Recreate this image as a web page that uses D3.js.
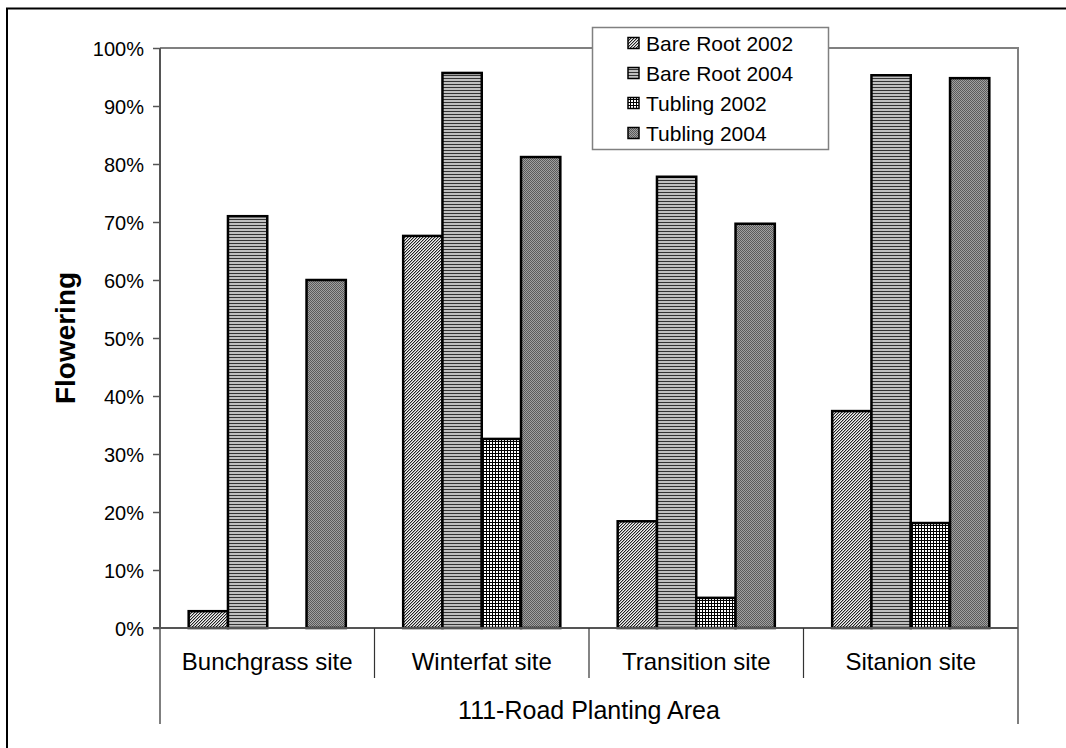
<!DOCTYPE html>
<html><head><meta charset="utf-8">
<script src="https://cdn.jsdelivr.net/npm/d3@7"></script>
<style>body{margin:0;background:#fff}svg{display:block}text{font-family:"Liberation Sans",Arial,sans-serif}</style>
</head><body>
<svg id="c" width="1066" height="748"></svg>
<script>
const categories = ["Bunchgrass site","Winterfat site","Transition site","Sitanion site"];
const seriesNames = ["Bare Root 2002","Bare Root 2004","Tubling 2002","Tubling 2004"];
const bareRoot2002 = [0.029,0.676,0.184,0.374];
const bareRoot2004 = [0.710,0.957,0.778,0.953];
const tubling2002 = [0.0,0.326,0.052,0.181];
const tubling2004 = [0.600,0.812,0.697,0.948];
const yTicks = [0,0.1,0.2,0.3,0.4,0.5,0.6,0.7,0.8,0.9,1.0];
const groupLabel = "111-Road Planting Area";
const yLabel = "Flowering";

const series = [bareRoot2002,bareRoot2004,tubling2002,tubling2004];
const svg = d3.select("#c");
const defs = svg.append("defs");
// patterns
const p1 = defs.append("pattern").attr("id","p0").attr("patternUnits","userSpaceOnUse").attr("width",3).attr("height",3);
p1.append("rect").attr("width",3).attr("height",3).attr("fill","#f4f4f4");
[[0,2],[1,1],[2,0]].forEach(([px,py])=>p1.append("rect").attr("x",px).attr("y",py).attr("width",1).attr("height",1).attr("fill","#222"));
[[1,2],[2,1],[0,0]].forEach(([px,py])=>p1.append("rect").attr("x",px).attr("y",py).attr("width",1).attr("height",1).attr("fill","#aaa"));
const p2 = defs.append("pattern").attr("id","p1").attr("patternUnits","userSpaceOnUse").attr("width",3).attr("height",3);
p2.append("rect").attr("width",3).attr("height",3).attr("fill","#c0c0c0");
p2.append("rect").attr("y",0).attr("width",3).attr("height",1).attr("fill","#333");
const p3 = defs.append("pattern").attr("id","p2").attr("patternUnits","userSpaceOnUse").attr("width",3).attr("height",3);
p3.append("rect").attr("width",3).attr("height",3).attr("fill","#fff");
p3.append("rect").attr("width",3).attr("height",1).attr("fill","#000");
p3.append("rect").attr("width",1).attr("height",3).attr("fill","#000");
const p4 = defs.append("pattern").attr("id","p3").attr("patternUnits","userSpaceOnUse").attr("width",2).attr("height",2);
p4.append("rect").attr("width",2).attr("height",2).attr("fill","#a0a0a0");
p4.append("rect").attr("width",1).attr("height",1).attr("fill","#5a5a5a");
p4.append("rect").attr("x",1).attr("y",1).attr("width",1).attr("height",1).attr("fill","#5a5a5a");

const L=160, R=1018, T=48, B=628;
// outer border
svg.append("rect").attr("x",7).attr("y",8.5).attr("width",1100).attr("height",800).attr("fill","none").attr("stroke","#000").attr("stroke-width",2);
const y = d3.scaleLinear().domain([0,1]).range([B,T]);
const x0 = d3.scaleBand().domain(categories).range([L,R]).paddingInner(0).paddingOuter(0);
const x1 = d3.scaleBand().domain(d3.range(4)).range([0,x0.bandwidth()]).paddingOuter(0.73).paddingInner(0);

// plot border (top/right)
svg.append("path").attr("d",`M${L},${T}H${R}V${B}`).attr("fill","none").attr("stroke","#808080").attr("stroke-width",2);

// bars
const g = svg.append("g");
categories.forEach((c,i)=>{
  series.forEach((s,j)=>{
    if(s[i]<=0) return;
    g.append("rect").attr("x",x0(c)+x1(j)).attr("y",y(s[i])).attr("width",x1.bandwidth()).attr("height",B-y(s[i]))
     .attr("fill",`url(#p${j})`).attr("stroke","#000").attr("stroke-width",2.5);
  });
});

// y axis
const ya = svg.append("g").attr("transform",`translate(${L},0)`).call(d3.axisLeft(y).tickValues(yTicks).tickFormat(d3.format(".0%")).tickSize(7).tickPadding(9));
ya.attr("font-family",null).attr("font-size",null);
ya.select(".domain").attr("stroke","#555").attr("stroke-width",2).attr("d",`M0,${B}V${T}`);
ya.selectAll(".tick line").attr("stroke","#555").attr("stroke-width",1.5);
ya.selectAll(".tick text").attr("font-size",20).attr("fill","#000").attr("dy","0.35em");

// x axis line
svg.append("line").attr("x1",L-7).attr("x2",R).attr("y1",B).attr("y2",B).attr("stroke","#555").attr("stroke-width",2);
// category separators
categories.forEach((c,i)=>{ if(i>0) svg.append("line").attr("x1",x0(c)).attr("x2",x0(c)).attr("y1",B).attr("y2",678).attr("stroke","#333").attr("stroke-width",1.2); });
[L,R].forEach(xx=>svg.append("line").attr("x1",xx).attr("x2",xx).attr("y1",B).attr("y2",724).attr("stroke","#555").attr("stroke-width",1.5));
svg.selectAll(".cat").data(categories).enter().append("text").attr("x",d=>x0(d)+x0.bandwidth()/2).attr("y",670)
  .attr("text-anchor","middle").attr("font-size",24).text(d=>d);
svg.append("text").attr("x",(L+R)/2).attr("y",719).attr("text-anchor","middle").attr("font-size",25).text(groupLabel);
svg.append("text").attr("transform",`translate(75,${(T+B)/2}) rotate(-90)`).attr("text-anchor","middle").attr("font-size",28).attr("font-weight","bold").text(yLabel);

// legend
const lg = svg.append("g");
lg.append("rect").attr("x",592.5).attr("y",27.5).attr("width",236).attr("height",122).attr("fill","#fff").attr("stroke","#808080").attr("stroke-width",1.5);
seriesNames.forEach((n,j)=>{
  const cy = 43 + j*30;
  lg.append("rect").attr("x",628).attr("y",cy-5.5).attr("width",11).attr("height",11).attr("fill",`url(#p${j})`).attr("stroke","#000").attr("stroke-width",1.5);
  lg.append("text").attr("x",646).attr("y",cy+7.5).attr("font-size",21).text(n);
});
</script>
</body></html>
